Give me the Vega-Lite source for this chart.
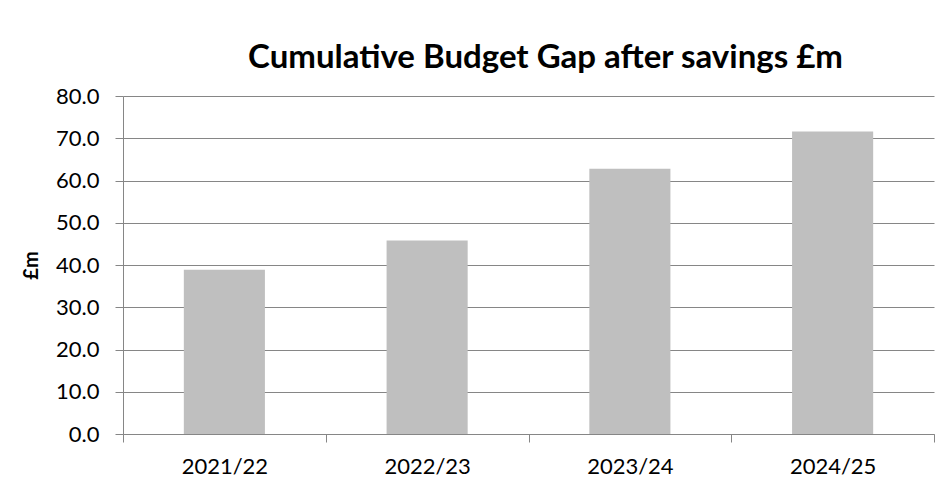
{
  "$schema": "https://vega.github.io/schema/vega-lite/v6.json",
  "width": 811,
  "height": 338,
  "autosize": {"type": "none"},
  "padding": {"left": 123, "top": 96, "right": 10, "bottom": 48},
  "background": "white",
  "title": {
    "text": "Cumulative Budget Gap after savings £m",
    "font": "Lato",
    "fontSize": 33,
    "fontWeight": "bold",
    "color": "#000000",
    "anchor": "middle",
    "frame": "group",
    "dx": 17,
    "baseline": "alphabetic",
    "offset": -16
  },
  "data": {
    "values": [
      {"year": "2021/22", "gap": 38.9},
      {"year": "2022/23", "gap": 45.8},
      {"year": "2023/24", "gap": 62.8},
      {"year": "2024/25", "gap": 71.6}
    ]
  },
  "mark": {"type": "bar", "color": "#BFBFBF", "width": {"band": 0.4}},
  "encoding": {
    "x": {
      "field": "year",
      "type": "nominal",
      "sort": null,
      "scale": {"paddingInner": 0, "paddingOuter": 0},
      "axis": {
        "title": null,
        "labelAngle": 0,
        "labelFont": "Lato",
        "labelFontSize": 22,
        "labelColor": "#000000",
        "labelPadding": 14,
        "tickBand": "extent",
        "tickSize": 8,
        "tickColor": "#868686",
        "domainColor": "#868686",
        "grid": false
      }
    },
    "y": {
      "field": "gap",
      "type": "quantitative",
      "scale": {"domain": [0, 80], "nice": false},
      "axis": {
        "title": "£m",
        "titleFont": "Lato",
        "titleFontSize": 20,
        "titleFontWeight": "bold",
        "titleColor": "#000000",
        "titlePadding": 14,
        "values": [0, 10, 20, 30, 40, 50, 60, 70, 80],
        "format": ".1f",
        "labelFont": "Lato",
        "labelFontSize": 22,
        "labelColor": "#000000",
        "labelPadding": 16,
        "tickSize": 8,
        "tickColor": "#868686",
        "domainColor": "#868686",
        "grid": true,
        "gridColor": "#868686"
      }
    }
  },
  "config": {
    "view": {"stroke": null}
  }
}
